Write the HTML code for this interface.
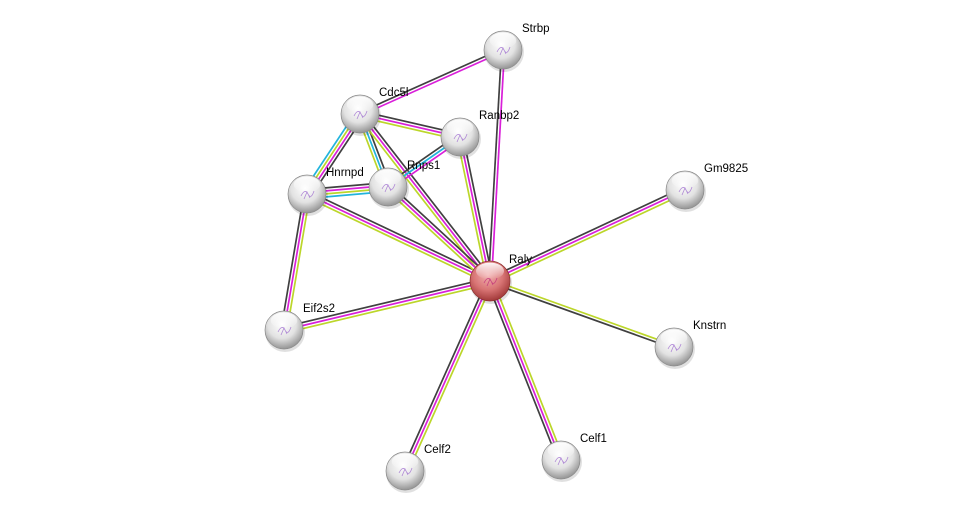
<!DOCTYPE html>
<html><head><meta charset="utf-8"><style>
html,body{margin:0;padding:0;background:#fff;}
svg{display:block;}
text{font-family:"Liberation Sans",sans-serif;font-size:11.5px;fill:#000;}
</style></head><body>
<svg id="s" width="976" height="517" viewBox="0 0 976 517" xmlns="http://www.w3.org/2000/svg">
<defs>
<radialGradient id="g" cx="0.45" cy="0.35" r="0.68">
<stop offset="0" stop-color="#ffffff"/><stop offset="0.55" stop-color="#e2e2e2"/><stop offset="1" stop-color="#8c8c8c"/>
</radialGradient>
<radialGradient id="r" cx="0.45" cy="0.35" r="0.68">
<stop offset="0" stop-color="#f2b0b0"/><stop offset="0.55" stop-color="#d87474"/><stop offset="1" stop-color="#9c3333"/>
</radialGradient>
<linearGradient id="h" x1="0" y1="0" x2="0" y2="1">
<stop offset="0" stop-color="#fff" stop-opacity="0.95"/><stop offset="1" stop-color="#fff" stop-opacity="0"/>
</linearGradient>
</defs>
<g id="edges"></g>
<g id="nodes"></g>
</svg>
<script>
var N={Strbp:[503,50],Cdc5l:[360,114],Ranbp2:[460,137],Hnrnpd:[307,194],Rnps1:[388,187],Gm9825:[685,190],Raly:[490,281],Eif2s2:[284,330],Knstrn:[674,347],Celf2:[405,471],Celf1:[561,460]};
var D="#404040",M="#d91fd9",Y="#bcd62a",C="#22b4dc";
var E=[["Strbp","Cdc5l",[M,D]],["Strbp","Raly",[M,D]],["Cdc5l","Ranbp2",[D,M,Y]],["Cdc5l","Hnrnpd",[D,M,Y,C]],["Cdc5l","Rnps1",[D,C,Y]],["Cdc5l","Raly",[D,M,Y]],["Ranbp2","Rnps1",[M,C,D]],["Ranbp2","Raly",[D,M,Y]],["Hnrnpd","Rnps1",[D,M,Y,C]],["Hnrnpd","Raly",[D,M,Y]],["Hnrnpd","Eif2s2",[Y,M,D]],["Rnps1","Raly",[D,M,Y]],["Gm9825","Raly",[Y,M,D]],["Eif2s2","Raly",[D,M,Y]],["Knstrn","Raly",[D,Y]],["Celf2","Raly",[D,M,Y]],["Celf1","Raly",[D,M,Y]]];
var ns="http://www.w3.org/2000/svg",eg=document.getElementById("edges"),ng=document.getElementById("nodes");
E.forEach(function(e){var a=N[e[0]],b=N[e[1]],dx=b[0]-a[0],dy=b[1]-a[1],L=Math.hypot(dx,dy),px=-dy/L,py=dx/L,k=e[2].length;
e[2].forEach(function(c,i){var o=(i-(k-1)/2)*3;var l=document.createElementNS(ns,"line");
l.setAttribute("x1",a[0]+px*o);l.setAttribute("y1",a[1]+py*o);l.setAttribute("x2",b[0]+px*o);l.setAttribute("y2",b[1]+py*o);
l.setAttribute("stroke",c);l.setAttribute("stroke-width","1.7");eg.appendChild(l);});});
for(var n in N){var p=N[n],R=n=="Raly"?20:19;
var sh=document.createElementNS(ns,"circle");sh.setAttribute("cx",p[0]+1);sh.setAttribute("cy",p[1]+2);sh.setAttribute("r",R+1);sh.setAttribute("fill","#000");sh.setAttribute("opacity","0.12");ng.appendChild(sh);
var c=document.createElementNS(ns,"circle");c.setAttribute("cx",p[0]);c.setAttribute("cy",p[1]);c.setAttribute("r",R);c.setAttribute("fill",n=="Raly"?"url(#r)":"url(#g)");c.setAttribute("stroke",n=="Raly"?"#8a3030":"#888");c.setAttribute("stroke-width","0.7");ng.appendChild(c);
var hl=document.createElementNS(ns,"ellipse");hl.setAttribute("cx",p[0]);hl.setAttribute("cy",p[1]-R*0.5);hl.setAttribute("rx",R*0.7);hl.setAttribute("ry",R*0.42);hl.setAttribute("fill","url(#h)");ng.appendChild(hl);
var sq=document.createElementNS(ns,"path");sq.setAttribute("d","M"+(p[0]-6)+","+(p[1]+2)+" q4,-8 7,-2 t6,-3 M"+(p[0]-3)+","+(p[1]+5)+" l3,-7 l3,6");sq.setAttribute("fill","none");sq.setAttribute("stroke",n=="Raly"?"#c0307a":"#a070d0");sq.setAttribute("stroke-width","0.8");sq.setAttribute("opacity","0.8");ng.appendChild(sq);
var t=document.createElementNS(ns,"text");t.setAttribute("x",p[0]+19);t.setAttribute("y",p[1]-18);t.textContent=n;ng.appendChild(t);}
</script>
</body></html>
